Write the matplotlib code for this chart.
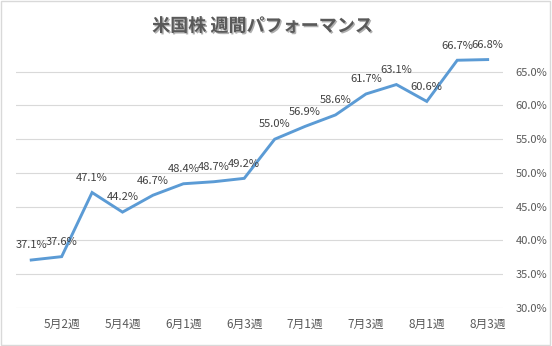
import matplotlib
matplotlib.use("Agg")
import matplotlib.pyplot as plt
import matplotlib.patheffects as pe
from matplotlib.ticker import FuncFormatter

plt.rcParams["font.family"] = ["Noto Sans CJK JP", "DejaVu Sans"]

# weekly categories and cumulative performance (%)
weeks = [
    "5月1週", "5月2週", "5月3週", "5月4週", "5月5週", "6月1週", "6月2週", "6月3週",
    "6月4週", "7月1週", "7月2週", "7月3週", "7月4週", "8月1週", "8月2週", "8月3週",
]
performance = [37.1, 37.6, 47.1, 44.2, 46.7, 48.4, 48.7, 49.2,
               55.0, 56.9, 58.6, 61.7, 63.1, 60.6, 66.7, 66.8]
y_ticks = [30, 35, 40, 45, 50, 55, 60, 65]

line_color = "#5b9bd5"
text_color = "#595959"
grid_color = "#d9d9d9"

fig = plt.figure(figsize=(5.52, 3.46), dpi=100)
ax = fig.add_axes([0.029, 0.110, 0.882, 0.751])

x = list(range(len(weeks)))
ax.plot(x, performance, color=line_color, linewidth=2.1, solid_joinstyle="miter")

for xi, v in zip(x, performance):
    ax.annotate(f"{v:.1f}%", (xi, v), xytext=(0, 7), textcoords="offset points",
                ha="center", va="bottom", fontsize=8, color="#404040")

ax.set_xlim(-0.5, len(weeks) - 0.5)
ax.set_ylim(30, 68.5)
ax.set_yticks(y_ticks)
ax.yaxis.set_major_formatter(FuncFormatter(lambda v, _: f"{v:.1f}%"))
ax.yaxis.tick_right()
ax.tick_params(axis="y", length=0, pad=9, labelsize=8, labelcolor=text_color)

ax.set_xticks(x[1::2])
ax.set_xticklabels(weeks[1::2])
ax.tick_params(axis="x", length=0, pad=7, labelsize=8.5, labelcolor=text_color)

ax.grid(axis="y", color=grid_color, linewidth=0.8)
ax.set_axisbelow(True)
for s in ax.spines.values():
    s.set_visible(False)

title = fig.text(0.475, 0.925, "米国株 週間パフォーマンス", ha="center", va="center",
                 fontsize=13, fontweight="bold", color=text_color)
title.set_path_effects([pe.SimplePatchShadow(offset=(1, -1), alpha=0.35), pe.Normal()])

# light border around the chart area
fig.patches.append(plt.Rectangle((0.002, 0.003), 0.995, 0.993, transform=fig.transFigure,
                                 fill=False, edgecolor="#d9d9d9", linewidth=1))

fig.savefig("out.png", dpi=100)
